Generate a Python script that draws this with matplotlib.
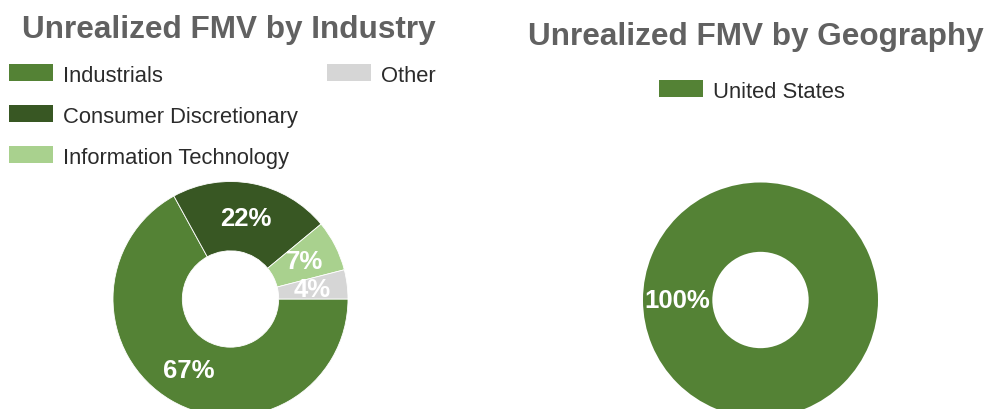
import matplotlib
matplotlib.use("Agg")
import matplotlib.pyplot as plt
from matplotlib.patches import Rectangle

plt.rcParams['font.family'] = ['Liberation Sans', 'DejaVu Sans']

# ---- data ----
industry_labels = ["Industrials", "Consumer Discretionary", "Information Technology", "Other"]
industry_values = [67, 22, 7, 4]
industry_colors = ["#548235", "#385723", "#A9D18E", "#D6D6D6"]

geo_labels = ["United States"]
geo_values = [100]
geo_colors = ["#548235"]

W, H = 992, 410
DPI = 100
fig = plt.figure(figsize=(W / DPI, H / DPI), dpi=DPI)
fig.patch.set_facecolor("white")

TITLE_COLOR = "#616161"
TEXT_COLOR = "#2b2b2b"


def px(x, y):
    """convert pixel (from top-left) to figure fraction"""
    return x / W, 1 - y / H


def donut(cx, cy, r, values, colors, edge):
    ax = fig.add_axes([(cx - r) / W, (H - cy - r) / H, 2 * r / W, 2 * r / H])
    wedges, texts, autotexts = ax.pie(
        values, colors=colors, startangle=0, counterclock=False, radius=1.0,
        autopct=lambda p: f"{p:.0f}%", pctdistance=0.705,
        wedgeprops=dict(width=0.59, edgecolor="white" if edge else "none", linewidth=0.6 if edge else 0),
        textprops=dict(color="white", fontsize=18.5, fontweight="bold"))
    ax.set_xlim(-1, 1)
    ax.set_ylim(-1, 1)
    ax.set_aspect("equal")
    ax.axis("off")
    return ax


def legend_entry(x, y_base, label, color, pw=44, ph=17):
    fx, fy = px(x, y_base)
    fig.add_artist(Rectangle((fx, fy), pw / W, ph / H, transform=fig.transFigure,
                             facecolor=color, edgecolor="none"))
    tx, ty = px(x + pw + 10, y_base)
    fig.text(tx, ty, label, fontsize=15.8, color=TEXT_COLOR, va="baseline", ha="left")


# ---- left chart ----
tx, ty = px(229, 38)
fig.text(tx, ty, "Unrealized FMV by Industry", fontsize=22.7, fontweight="bold",
         color=TITLE_COLOR, ha="center", va="baseline")
legend_entry(9, 82, industry_labels[0], industry_colors[0])
legend_entry(9, 123, industry_labels[1], industry_colors[1])
legend_entry(9, 164, industry_labels[2], industry_colors[2])
legend_entry(327, 82, industry_labels[3], industry_colors[3])
donut(230.5, 300, 117.5, industry_values, industry_colors, edge=True)

# ---- right chart ----
tx, ty = px(755.5, 45)
fig.text(tx, ty, "Unrealized FMV by Geography", fontsize=22.7, fontweight="bold",
         color=TITLE_COLOR, ha="center", va="baseline")
legend_entry(659, 98, geo_labels[0], geo_colors[0])
donut(760.5, 301, 117.5, geo_values, geo_colors, edge=False)

fig.savefig("out.png", dpi=DPI)
